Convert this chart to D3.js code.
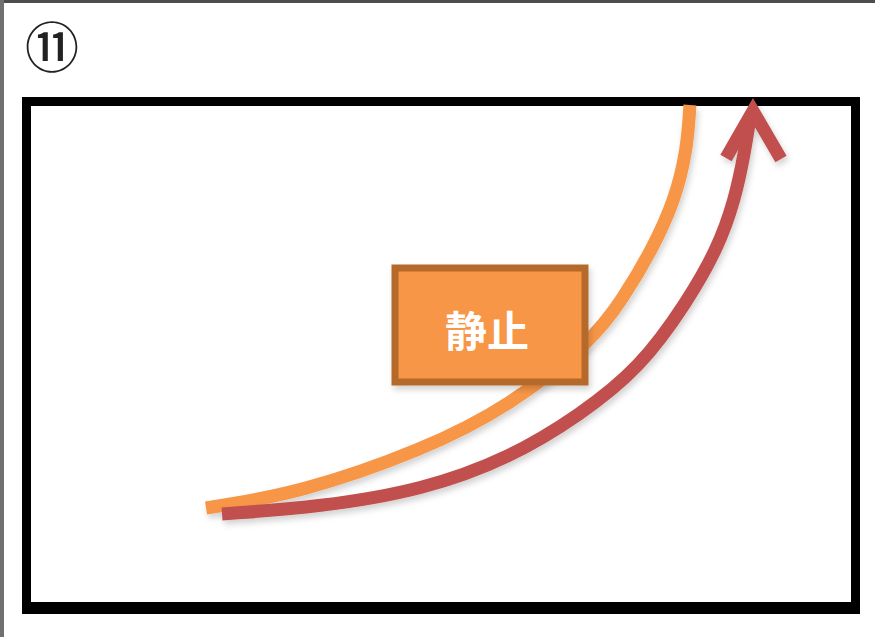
<!DOCTYPE html>
<html>
<head>
<meta charset="utf-8">
<script src="https://cdn.jsdelivr.net/npm/d3@7"></script>
<style>
  body { margin: 0; background: #fff; }
  svg { display: block; }
</style>
</head>
<body>
<div id="chart"></div>
<script>
var svgWidth = 875;
var svgHeight = 637;

// frame box in page pixels
var frame = { left: 22, top: 97, right: 860, bottom: 614 };

// curves, in 0..100 units of the frame (x right, y up)
var orangeX = [21.96, 33.17, 47.85, 58.23, 68.14, 71.60, 75.18, 77.92, 79.36, 79.71];
var orangeY = [20.50, 23.40, 31.72, 40.23, 53.00, 60.74, 70.41, 80.08, 89.75, 98.45];

var redX = [23.87, 35.56, 47.85, 58.23, 66.59, 73.75, 79.36, 82.94, 85.08, 86.28, 86.87];
var redY = [19.34, 20.70, 23.98, 30.17, 38.49, 47.58, 60.35, 70.41, 80.08, 89.75, 95.94];

// arrow head (left wing, tip, right wing)
var headX = [84.01, 87.23, 90.57];
var headY = [88.20, 97.29, 88.01];

var label = "静止";
var number = "⑪";

var svg = d3.select("#chart")
    .append("svg")
    .attr("width", svgWidth)
    .attr("height", svgHeight);

var defs = svg.append("defs");
var shadow = defs.append("filter")
    .attr("id", "shadow")
    .attr("x", "-10%").attr("y", "-10%")
    .attr("width", "120%").attr("height", "120%");
shadow.append("feDropShadow")
    .attr("dx", 2).attr("dy", 4)
    .attr("stdDeviation", 3)
    .attr("flood-color", "#000")
    .attr("flood-opacity", 0.18);

// page edges (grey border of the screenshot)
svg.append("rect").attr("x", 0).attr("y", 0).attr("width", svgWidth).attr("height", 3).attr("fill", "#4d4d4d");
svg.append("rect").attr("x", 0).attr("y", 0).attr("width", 4).attr("height", svgHeight).attr("fill", "#707070");

var x = d3.scaleLinear().domain([0, 100]).range([frame.left, frame.right]);
var y = d3.scaleLinear().domain([0, 100]).range([frame.bottom, frame.top]);

// circled number
svg.append("text")
    .attr("x", 52)
    .attr("y", 44)
    .attr("text-anchor", "middle")
    .attr("dominant-baseline", "central")
    .style("font-family", "'Noto Sans CJK JP'")
    .style("font-weight", "500")
    .style("font-size", "54px")
    .style("fill", "#222")
    .text(number);

// frame
svg.append("rect")
    .attr("x", frame.left + 4.5)
    .attr("y", frame.top + 4.5)
    .attr("width", frame.right - frame.left - 9)
    .attr("height", frame.bottom - frame.top - 9)
    .attr("fill", "none")
    .attr("stroke", "#000")
    .attr("stroke-width", 9);
svg.append("rect")
    .attr("x", frame.left)
    .attr("y", frame.bottom - 12)
    .attr("width", frame.right - frame.left)
    .attr("height", 12)
    .attr("fill", "#000");

// b-spline smooths out the reading noise in the points
var line = d3.line()
    .x(d => x(d[0]))
    .y(d => y(d[1]))
    .curve(d3.curveBasis);

var orangePts = d3.zip(orangeX, orangeY);
var redPts = d3.zip(redX, redY);
var headPts = d3.zip(headX, headY);

// orange curve
svg.append("path")
    .attr("d", line(orangePts))
    .attr("fill", "none")
    .attr("stroke", "#f79646")
    .attr("stroke-width", 13)
    .attr("filter", "url(#shadow)");

// red arrow
var arrow = svg.append("g").attr("filter", "url(#shadow)");
arrow.append("path")
    .attr("d", line(redPts))
    .attr("fill", "none")
    .attr("stroke", "#c0504d")
    .attr("stroke-width", 13);
arrow.append("path")
    .attr("d", d3.line().x(d => x(d[0])).y(d => y(d[1]))(headPts))
    .attr("fill", "none")
    .attr("stroke", "#c0504d")
    .attr("stroke-width", 13)
    .attr("stroke-linejoin", "miter")
    .attr("stroke-miterlimit", 10);

// label box
var box = { x: 395, y: 268, w: 190, h: 114 };
svg.append("rect")
    .attr("x", box.x)
    .attr("y", box.y)
    .attr("width", box.w)
    .attr("height", box.h)
    .attr("fill", "#f79646")
    .attr("stroke", "#b5692c")
    .attr("stroke-width", 7)
    .attr("filter", "url(#shadow)");

svg.append("text")
    .attr("x", box.x + box.w / 2 - 3)
    .attr("y", box.y + box.h / 2 + 3)
    .attr("text-anchor", "middle")
    .attr("dominant-baseline", "central")
    .style("font-family", "'Noto Sans CJK JP'")
    .style("font-weight", "bold")
    .style("font-size", "42px")
    .style("fill", "#fff")
    .text(label);
</script>
</body>
</html>
